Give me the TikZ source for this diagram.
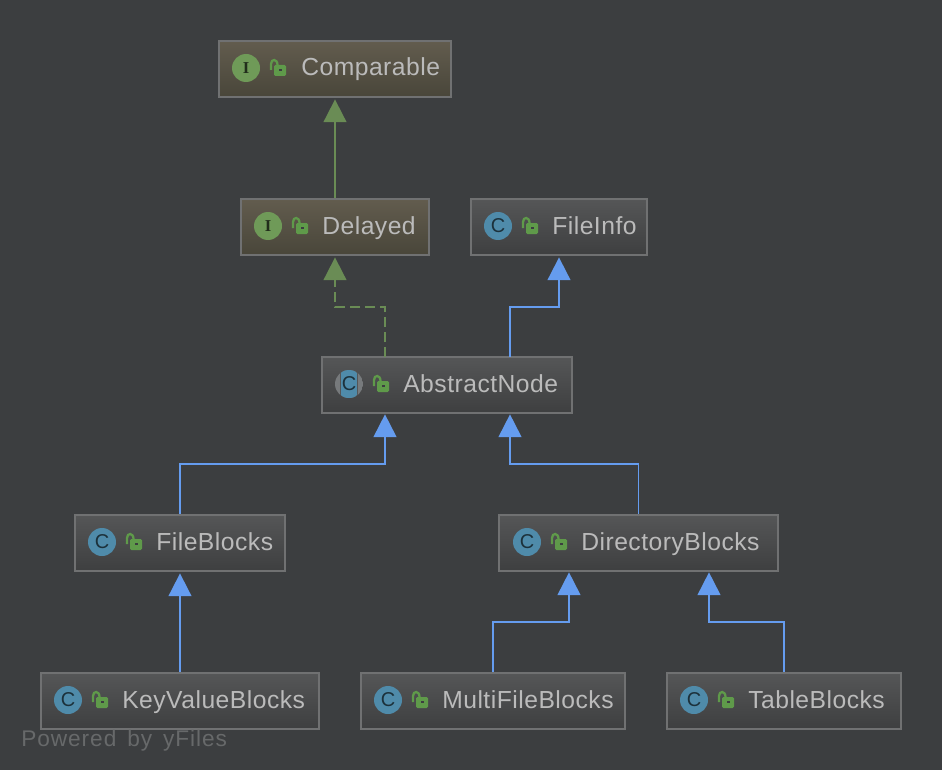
\documentclass[tikz,border=0pt]{standalone}
\usepackage{fontspec}
\setmainfont[LetterSpace=2]{Liberation Sans}
\newfontfamily\poweredfont[LetterSpace=4.2,WordSpace=1.5]{Liberation Sans}
\newfontfamily\iconsans{Liberation Sans}
\newfontfamily\iconserif{Liberation Serif}
\usetikzlibrary{arrows.meta}
\definecolor{canvas}{HTML}{3C3E40}
\definecolor{boxline}{HTML}{707172}
\definecolor{boxtext}{HTML}{BBBBBB}
\definecolor{inherit}{HTML}{6A8C55}
\definecolor{extend}{HTML}{659CEF}
\definecolor{lockgreen}{HTML}{5F9A4A}
\definecolor{iconblue}{HTML}{4F8BAA}
\definecolor{icongreen}{HTML}{6F9A58}
\definecolor{icongray}{HTML}{777A7C}
\definecolor{classtop}{HTML}{555657}
\definecolor{classbottom}{HTML}{3E3F40}
\definecolor{ifacetop}{HTML}{625C4E}
\definecolor{ifacebottom}{HTML}{49463A}
\tikzset{
  umlbox/.style={draw=boxline,line width=1.6pt,inner sep=0pt,minimum height=42pt,minimum width=#1*.75pt},
  classbox/.style={umlbox=#1,top color=classtop,bottom color=classbottom},
  ifacebox/.style={umlbox=#1,top color=ifacetop,bottom color=ifacebottom},
  iconbase/.style={circle,inner sep=0pt,minimum size=21pt},
  cicon/.style={iconbase,fill=iconblue,text=black!65!iconblue,font=\fontsize{15pt}{15pt}\selectfont\iconsans},
  iicon/.style={iconbase,fill=icongreen,text=black!70!icongreen,font=\fontsize{12.5pt}{12.5pt}\selectfont\iconserif\bfseries},
  nametext/.style={anchor=base west,yshift=-6pt,inner sep=0pt,text=boxtext,font=\fontsize{18.5pt}{20pt}\selectfont},
  arrowtip/.style={-{Triangle[length=17pt,width=17pt]},line width=1.4pt,shorten >=1pt},
  implements/.style={arrowtip,color=inherit},
  extends/.style={arrowtip,color=extend},
  lockicon/.pic={
    \draw [lockgreen,line width=1.7pt] (-7,2) -- (-7,-4) .. controls (-7,-9.5) and (-.5,-9.5) .. (-.5,-3);
    \fill [lockgreen,rounded corners=1pt] (-4,-3) rectangle (8,8);
    \fill [canvas] (1,1) rectangle (4,3);
  }
}
\begin{document}
\begin{tikzpicture}[x=.75pt,y=-.75pt]
\fill [canvas] (0,0) rectangle (942,770);
\useasboundingbox (0,0) rectangle (942,770);

\node [ifacebox=232] at (335,69) (comparable) {};
\node [iicon] at (246,68) (comparableicon) {I};
\pic at (278,68) {lockicon};
\node [nametext] at (301,68) (comparablename) {Comparable};

\node [ifacebox=188] at (335,227) (delayed) {};
\node [iicon] at (268,226) (delayedicon) {I};
\pic at (300,226) {lockicon};
\node [nametext] at (322,226) (delayedname) {Delayed};

\node [classbox=176] at (559,227) (fileinfo) {};
\node [cicon] at (498,226) (fileinfoicon) {C};
\pic at (530,226) {lockicon};
\node [nametext] at (552,226) (fileinfoname) {FileInfo};

\node [classbox=250] at (447,385) (abstractnode) {};
\begin{scope}
  \clip (349,384) circle (14);
  \fill [icongray] (335,370) rectangle (363,398);
  \fill [classtop] (340,370) rectangle (358,398);
  \fill [iconblue] (341,370) rectangle (357,398);
\end{scope}
\node [iconbase,text=black!65!iconblue,font=\fontsize{15pt}{15pt}\selectfont\iconsans] at (349,384) (abstracticon) {C};
\pic at (381,384) {lockicon};
\node [nametext] at (403,384) (abstractname) {AbstractNode};

\node [classbox=210] at (180,543) (fileblocks) {};
\node [cicon] at (102,542) (fileblocksicon) {C};
\pic at (134,542) {lockicon};
\node [nametext] at (156,542) (fileblocksname) {FileBlocks};

\node [classbox=279] at (638.5,543) (directoryblocks) {};
\node [cicon] at (527,542) (directoryicon) {C};
\pic at (559,542) {lockicon};
\node [nametext] at (581,542) (directoryname) {DirectoryBlocks};

\node [classbox=278] at (180,701) (keyvalueblocks) {};
\node [cicon] at (68,700) (keyvalueicon) {C};
\pic at (100,700) {lockicon};
\node [nametext] at (122,700) (keyvaluename) {KeyValueBlocks};

\node [classbox=264] at (493,701) (multifileblocks) {};
\node [cicon] at (388,700) (multifileicon) {C};
\pic at (420,700) {lockicon};
\node [nametext] at (442,700) (multifilename) {MultiFileBlocks};

\node [classbox=234] at (784,701) (tableblocks) {};
\node [cicon] at (694,700) (tableicon) {C};
\pic at (726,700) {lockicon};
\node [nametext] at (748,700) (tablename) {TableBlocks};

\node [anchor=base west,inner sep=0pt,text=canvas!78!white,font=\fontsize{17pt}{20pt}\selectfont\poweredfont] at (21,746) (poweredby) {Powered by yFiles};

% ports where the routed edges meet a box
\coordinate (abstractleft) at (385,357);
\coordinate (abstractright) at (510,357);
\coordinate (abstractinleft) at (385,413);
\coordinate (abstractinright) at (510,413);
\coordinate (directoryinleft) at (569,571);
\coordinate (directoryinright) at (709,571);

\draw [implements] (delayed) -- (comparable);
\draw [implements,dash pattern=on 7.5pt off 3.75pt] (abstractleft) -- ++(0,-50) -| (delayed);
\draw [extends] (abstractright) -- ++(0,-50) -| (fileinfo);
\draw [extends] (fileblocks.north) -- ++(0,-50) -| (abstractinleft);
\draw [extends] (directoryblocks.north) -- ++(0,-50) -| (abstractinright);
\draw [extends] (keyvalueblocks) -- (fileblocks);
\draw [extends] (multifileblocks.north) -- ++(0,-50) -| (directoryinleft);
\draw [extends] (tableblocks.north) -- ++(0,-50) -| (directoryinright);
\end{tikzpicture}
\end{document}
